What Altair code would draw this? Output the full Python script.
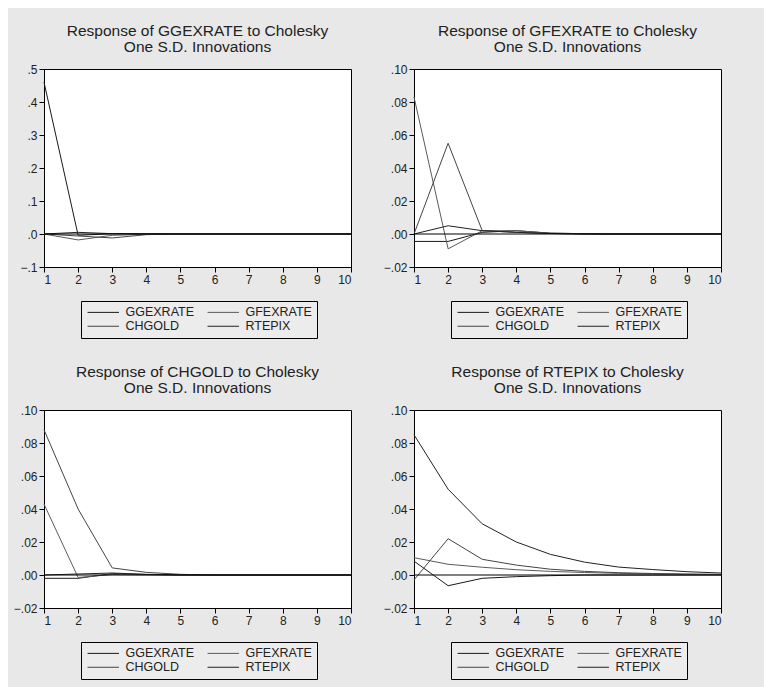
import altair as alt
import pandas as pd

periods = [1, 2, 3, 4, 5, 6, 7, 8, 9, 10]
series_names = ["GGEXRATE", "GFEXRATE", "CHGOLD", "RTEPIX"]
line_colors = ["#1a1a1a", "#5a5a5a", "#444444", "#222222"]

# Response of GGEXRATE
p1_gg = [0.460, -0.004, 0.001, 0.0005, 0.0002, 0.0, 0.0, 0.0, 0.0, 0.0]
p1_gf = [0.0, -0.018, -0.004, -0.001, 0.0, 0.0, 0.0, 0.0, 0.0, 0.0]
p1_ch = [0.0, -0.006, -0.012, -0.002, 0.0, 0.0, 0.0, 0.0, 0.0, 0.0]
p1_rt = [0.0, 0.005, 0.001, 0.0005, 0.0, 0.0, 0.0, 0.0, 0.0, 0.0]

# Response of GFEXRATE
p2_gg = [-0.0045, -0.0045, 0.001, 0.002, 0.0005, 0.0002, 0.0, 0.0, 0.0, 0.0]
p2_gf = [0.083, -0.009, 0.002, 0.002, 0.0005, 0.0002, 0.0, 0.0, 0.0, 0.0]
p2_ch = [0.0, 0.055, 0.002, 0.001, 0.0003, 0.0, 0.0, 0.0, 0.0, 0.0]
p2_rt = [0.0, 0.005, 0.002, 0.001, 0.0003, 0.0, 0.0, 0.0, 0.0, 0.0]

# Response of CHGOLD
p3_gg = [-0.002, -0.002, 0.0008, 0.0003, 0.0, 0.0, 0.0, 0.0, 0.0, 0.0]
p3_gf = [0.043, -0.0015, 0.0003, 0.0001, 0.0, 0.0, 0.0, 0.0, 0.0, 0.0]
p3_ch = [0.088, 0.040, 0.0043, 0.0016, 0.0004, 0.0, 0.0, 0.0, 0.0, 0.0]
p3_rt = [0.0, 0.0006, 0.0012, 0.0004, 0.0001, 0.0, 0.0, 0.0, 0.0, 0.0]

# Response of RTEPIX
p4_gg = [0.0084, -0.0065, -0.002, -0.001, -0.0004, 0.0, 0.0, 0.0, 0.0, 0.0]
p4_gf = [0.0105, 0.0065, 0.0047, 0.0032, 0.0022, 0.0015, 0.001, 0.0007, 0.0004, 0.0003]
p4_ch = [-0.003, 0.022, 0.0095, 0.006, 0.0035, 0.0022, 0.0014, 0.0009, 0.0006, 0.0004]
p4_rt = [0.085, 0.052, 0.031, 0.020, 0.0125, 0.0078, 0.0048, 0.0033, 0.002, 0.0012]

ticks_a = [-0.1, 0.0, 0.1, 0.2, 0.3, 0.4, 0.5]
ticks_b = [-0.02, 0.0, 0.02, 0.04, 0.06, 0.08, 0.10]


def panel(name, values, domain, ticks, fmt):
    rows = []
    for s, vals in zip(series_names, values):
        for p, v in zip(periods, vals):
            rows.append({"period": p, "value": v, "series": s})
    df = pd.DataFrame(rows)
    yscale = alt.Scale(domain=domain, nice=False, zero=False)
    yaxis = alt.Axis(values=ticks, title=None, grid=False, tickSize=5,
                     labelFontSize=12, labelPadding=2, labelOverlap=False,
                     labelExpr="replace(format(datum.value, '" + fmt + "'), '0.', '.')")
    lines = alt.Chart(df).mark_line(strokeWidth=1).encode(
        x=alt.X("period:Q",
                scale=alt.Scale(domain=[1, 10], nice=False, zero=False),
                axis=alt.Axis(values=periods, title=None, grid=False, tickSize=5,
                              labelFontSize=12, labelPadding=2, labelOverlap=False)),
        y=alt.Y("value:Q", scale=yscale, axis=yaxis),
        color=alt.Color("series:N",
                        scale=alt.Scale(domain=series_names, range=line_colors),
                        legend=alt.Legend(title=None, orient="none", legendX=37, legendY=232,
                                          direction="horizontal",
                                          columns=2, symbolType="M-3,0H3", symbolSize=110,
                                          symbolOffset=11, labelOffset=16,
                                          symbolStrokeWidth=1, labelFontSize=12.5,
                                          columnPadding=10, rowPadding=1, padding=5,
                                          strokeColor="black", fillColor="#ececec",
                                          labelLimit=200)),
    )
    zero = alt.Chart(pd.DataFrame({"z": [0.0]})).mark_rule(color="black", strokeWidth=1).encode(
        y=alt.Y("z:Q", scale=yscale, axis=yaxis)
    )
    return alt.layer(lines, zero).properties(
        width=307,
        height=198,
        title=alt.TitleParams(
            text=["Response of " + name + " to Cholesky", "One S.D. Innovations"],
            fontSize=15.5, fontWeight="normal", anchor="middle", frame="group",
            color="#222222", lineHeight=16, offset=8,
        ),
    )


c1 = panel("GGEXRATE", [p1_gg, p1_gf, p1_ch, p1_rt], [-0.1, 0.5], ticks_a, ".1f")
c2 = panel("GFEXRATE", [p2_gg, p2_gf, p2_ch, p2_rt], [-0.02, 0.10], ticks_b, ".2f")
c3 = panel("CHGOLD", [p3_gg, p3_gf, p3_ch, p3_rt], [-0.02, 0.10], ticks_b, ".2f")
c4 = panel("RTEPIX", [p4_gg, p4_gf, p4_ch, p4_rt], [-0.02, 0.10], ticks_b, ".2f")

row1 = alt.hconcat(c1, c2, spacing=28).resolve_scale(color="independent")
row2 = alt.hconcat(c3, c4, spacing=28).resolve_scale(color="independent")

chart = alt.vconcat(row1, row2, spacing=25).properties(
    background="#e8e8e8",
    padding={"left": 4, "top": 15, "right": 40, "bottom": 8},
).configure(font="Liberation Sans").configure_view(
    fill="white", stroke="black", strokeWidth=1
).configure_axis(
    domainColor="black", tickColor="black", labelColor="#222222", labelOverlap=False
).configure_legend(
    labelColor="#222222"
).resolve_scale(color="independent")

chart.save("out.html", embed_options={"renderer": "svg", "actions": False})
